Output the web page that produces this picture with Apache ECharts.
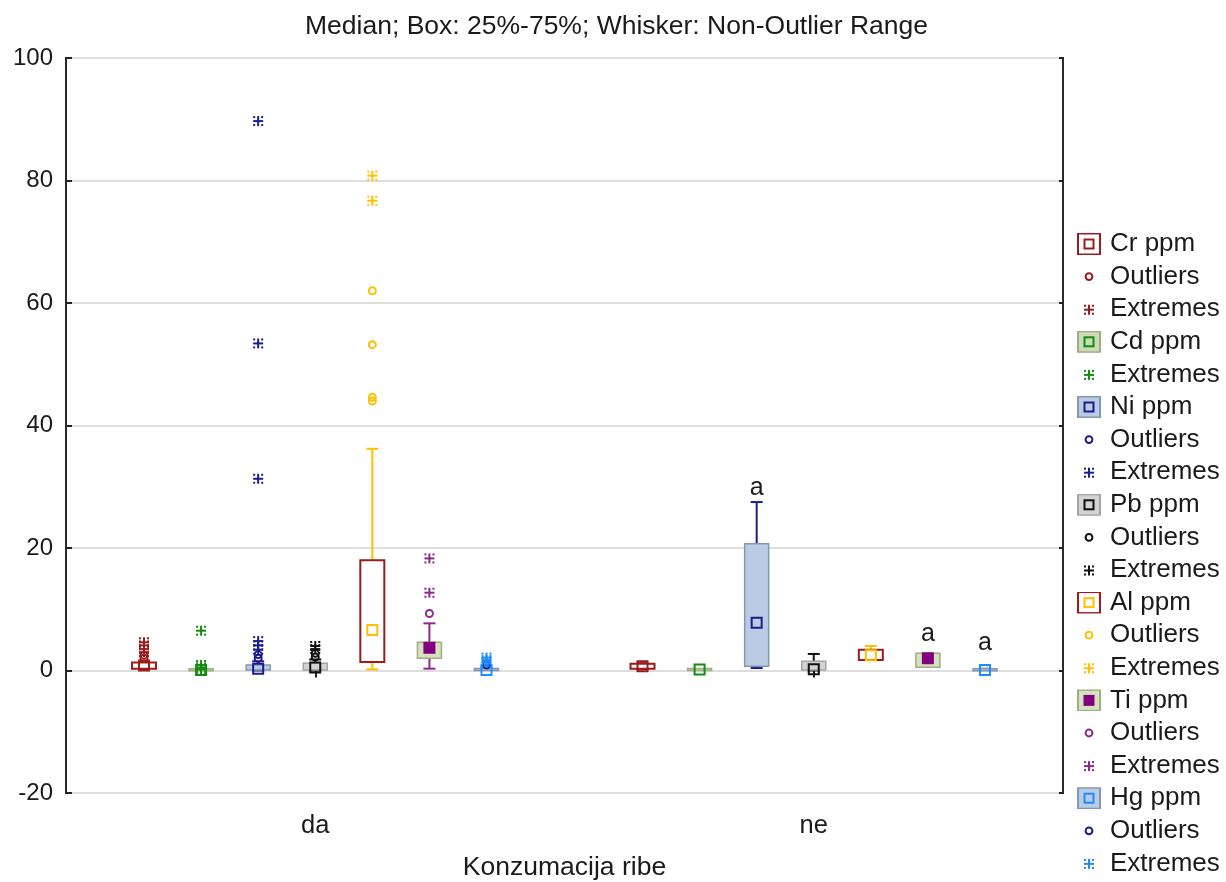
<!DOCTYPE html>
<html><head><meta charset="utf-8">
<script src="https://cdn.jsdelivr.net/npm/echarts@6/dist/echarts.min.js"></script>
<style>html,body{margin:0;padding:0;background:#fff}#c{width:1226px;height:882px}</style>
</head><body><div id="c"></div>
<script>
// ---------- data ----------
const categories = ['da', 'ne'];
const variables = ['Cr ppm', 'Cd ppm', 'Ni ppm', 'Pb ppm', 'Al ppm', 'Ti ppm', 'Hg ppm'];
const yTicks = [-20, 0, 20, 40, 60, 80, 100];
const chartTitle = 'Median; Box: 25%-75%; Whisker: Non-Outlier Range';
const xTitle = 'Konzumacija ribe';

// [lower whisker, Q1, median, Q3, upper whisker] for 'da', 'ne'
const crBox = [[0.1, 0.3, 0.8, 1.3, 1.5], [0.2, 0.3, 0.7, 1.1, 1.2]];
const cdBox = [[0.0, 0.05, 0.1, 0.2, 0.25], [0.0, 0.05, 0.15, 0.3, 0.35]];
const niBox = [[0.0, 0.1, 0.3, 0.9, 1.5], [0.4, 0.7, 7.8, 20.7, 27.5]];
const pbBox = [[0.0, 0.1, 0.5, 1.2, 1.8], [0.0, 0.1, 0.2, 1.5, 2.7]];
const alBox = [[0.2, 1.4, 6.6, 18.0, 36.2], [1.7, 1.7, 2.5, 3.4, 4.0]];
const tiBox = [[0.3, 2.0, 3.7, 4.6, 7.7], [0.5, 0.55, 2.0, 2.8, 2.8]];
const hgBox = [[0.0, 0.02, 0.1, 0.3, 0.6], [0.0, 0.05, 0.1, 0.2, 0.3]];

// [category index, value]
const crOutliers = [[0, 2.0], [0, 2.5]];
const crExtremes = [[0, 3.0], [0, 3.5], [0, 4.1], [0, 4.6]];
const cdExtremes = [[0, 0.2], [0, 0.5], [0, 0.9], [0, 6.5]];
const niOutliers = [[0, 2.0], [0, 2.6]];
const niExtremes = [[0, 3.4], [0, 4.1], [0, 4.8], [0, 31.3], [0, 53.4], [0, 89.7]];
const pbOutliers = [[0, 2.2], [0, 2.8]];
const pbExtremes = [[0, 3.5], [0, 4.0]];
const alOutliers = [[0, 44.0], [0, 44.6], [0, 53.2], [0, 62.0]];
const alExtremes = [[0, 76.7], [0, 80.8]];
const tiOutliers = [[0, 9.3]];
const tiExtremes = [[0, 12.7], [0, 18.3]];
const hgOutliers = [[0, 0.9]];
const hgExtremes = [[0, 1.3], [0, 1.7], [0, 2.1]];

// significance letters: [category index, value at letter, letter]
const niLetters = [[1, 29.7, 'a']];
const tiLetters = [[1, 5.9, 'a']];
const hgLetters = [[1, 4.4, 'a']];

// ---------- styles ----------
const FONT = '"Liberation Sans", Arial, sans-serif';
const TXT = '#1a1a1a';
const SPACING = 0.1145;   // fraction of category band between neighbouring boxes
const BOX_W = 24, CAP_W = 12, MED = 10;

const styles = {
  'Cr ppm': {fill: '#ffffff', border: '#9a1c1c', bw: 2, med: '#9a1c1c', whisker: '#9a1c1c', out: '#9a1c1c', ext: '#9a1c1c'},
  'Cd ppm': {fill: '#cbdbb7', border: '#9cad80', bw: 1.5, med: '#118c11', whisker: '#118c11', out: '#118c11', ext: '#118c11'},
  'Ni ppm': {fill: '#b9cce4', border: '#8497b2', bw: 1.5, med: '#1c1c8c', whisker: '#1c1c8c', out: '#1c1c8c', ext: '#1c1c8c'},
  'Pb ppm': {fill: '#d3d3d3', border: '#a4a4a4', bw: 1.5, med: '#111111', whisker: '#111111', out: '#111111', ext: '#111111'},
  'Al ppm': {fill: '#ffffff', border: '#9a1c1c', bw: 2, med: '#ffbf00', whisker: '#ffbf00', out: '#ffbf00', ext: '#ffbf00'},
  'Ti ppm': {fill: '#d6e2bf', border: '#9fae82', bw: 1.5, med: '#800080', medFill: true, whisker: '#8c2a8c', out: '#8c2a8c', ext: '#8c2a8c'},
  'Hg ppm': {fill: '#b9cce4', border: '#8497b2', bw: 1.5, med: '#1e8cff', whisker: '#1e8cff', out: '#1c1c8c', ext: '#1e8cff'}
};

function offsetFor(vi, api) {
  const band = api.size([1, 0])[0];
  return (vi - 3) * band * SPACING;
}

function boxSeries(vi, boxes) {
  const name = variables[vi];
  const st = styles[name];
  return {
    type: 'custom', name, z: 3,
    data: boxes.map((b, i) => [i].concat(b)),
    encode: {x: 0, y: [1, 2, 3, 4, 5]},
    renderItem: (params, api) => {
      const ci = api.value(0);
      const dx = offsetFor(vi, api);
      const py = k => api.coord([ci, api.value(k)])[1];
      const x = api.coord([ci, 0])[0] + dx;
      const yLo = py(1), yQ1 = py(2), yMed = py(3), yQ3 = py(4), yHi = py(5);
      const ls = {stroke: st.whisker, lineWidth: 2};
      const ch = [];
      if (yHi < yQ3 - 0.5) {
        ch.push({type: 'line', shape: {x1: x, y1: yQ3, x2: x, y2: yHi}, style: ls});
        ch.push({type: 'line', shape: {x1: x - CAP_W / 2, y1: yHi, x2: x + CAP_W / 2, y2: yHi}, style: ls});
      }
      if (yLo > yQ1 + 0.5) {
        ch.push({type: 'line', shape: {x1: x, y1: yQ1, x2: x, y2: yLo}, style: ls});
        ch.push({type: 'line', shape: {x1: x - CAP_W / 2, y1: yLo, x2: x + CAP_W / 2, y2: yLo}, style: ls});
      }
      const h = Math.max(yQ1 - yQ3, 2);
      ch.push({type: 'rect', shape: {x: x - BOX_W / 2, y: (yQ1 + yQ3) / 2 - h / 2, width: BOX_W, height: h},
        style: {fill: st.fill, stroke: st.border, lineWidth: st.bw}});
      ch.push({type: 'rect', shape: {x: x - MED / 2, y: yMed - MED / 2, width: MED, height: MED},
        style: {fill: st.medFill ? st.med : 'none', stroke: st.med, lineWidth: 2}});
      return {type: 'group', children: ch};
    }
  };
}

function asterisk(color) {
  const s = {fill: color};
  return [
    {type: 'rect', shape: {x: -1, y: -5, width: 2, height: 10}, style: s},
    {type: 'rect', shape: {x: -5, y: -1, width: 10, height: 2}, style: s},
    {type: 'rect', shape: {x: -5, y: -5, width: 2, height: 2}, style: s},
    {type: 'rect', shape: {x: 3, y: -5, width: 2, height: 2}, style: s},
    {type: 'rect', shape: {x: -5, y: 3, width: 2, height: 2}, style: s},
    {type: 'rect', shape: {x: 3, y: 3, width: 2, height: 2}, style: s}
  ];
}

function pointSeries(vi, kind, pts) {
  const v = variables[vi];
  const st = styles[v];
  const color = kind === 'Outliers' ? st.out : st.ext;
  return {
    type: 'custom', name: v + '|' + kind, z: 4,
    data: pts, encode: {x: 0, y: 1},
    renderItem: (params, api) => {
      const c = api.coord([api.value(0), api.value(1)]);
      const x = c[0] + offsetFor(vi, api), y = c[1];
      if (kind === 'Outliers') {
        return {type: 'circle', shape: {cx: x, cy: y, r: 3.5}, style: {fill: 'none', stroke: color, lineWidth: 2}};
      }
      return {type: 'group', x, y, children: asterisk(color)};
    }
  };
}

function letterSeries(vi, items) {
  return {
    type: 'custom', name: variables[vi] + '|letters', z: 5,
    data: items, encode: {x: 0, y: 1},
    renderItem: (params, api) => {
      const c = api.coord([api.value(0), api.value(1)]);
      return {type: 'text', x: c[0] + offsetFor(vi, api), y: c[1],
        style: {text: items[params.dataIndex][2], fill: TXT, font: '25px ' + FONT, align: 'center', verticalAlign: 'middle'}};
    }
  };
}

// ---------- legend icons (SVG images) ----------
function svgUrl(inner) {
  const svg = "<svg xmlns='http://www.w3.org/2000/svg' width='28' height='22' viewBox='0 0 28 22'>" + inner + "</svg>";
  return 'image://data:image/svg+xml;charset=utf-8,' + encodeURIComponent(svg);
}
function boxIcon(st) {
  return svgUrl("<rect x='1' y='0.5' width='22' height='21' fill='" + st.fill + "' stroke='" + st.border + "' stroke-width='2'/>" +
    "<rect x='7.5' y='6.5' width='9' height='9' fill='" + (st.medFill ? st.med : 'none') + "' stroke='" + st.med + "' stroke-width='2'/>");
}
function outIcon(color) {
  return svgUrl("<circle cx='12' cy='11' r='3.4' fill='none' stroke='" + color + "' stroke-width='2'/>");
}
function extIcon(color) {
  const r = (x, y, w, h) => "<rect x='" + x + "' y='" + y + "' width='" + w + "' height='" + h + "' fill='" + color + "'/>";
  return svgUrl(r(11, 6.5, 2, 10) + r(7, 10.5, 10, 2) + r(7, 6.5, 2, 2) + r(15, 6.5, 2, 2) + r(7, 14.5, 2, 2) + r(15, 14.5, 2, 2));
}

// ---------- series ----------
const boxesByVar = [crBox, cdBox, niBox, pbBox, alBox, tiBox, hgBox];
const pointsByVar = [
  {Outliers: crOutliers, Extremes: crExtremes},
  {Extremes: cdExtremes},
  {Outliers: niOutliers, Extremes: niExtremes},
  {Outliers: pbOutliers, Extremes: pbExtremes},
  {Outliers: alOutliers, Extremes: alExtremes},
  {Outliers: tiOutliers, Extremes: tiExtremes},
  {Outliers: hgOutliers, Extremes: hgExtremes}
];
const series = [];
const legendData = [];
variables.forEach((v, vi) => {
  const st = styles[v];
  series.push(boxSeries(vi, boxesByVar[vi]));
  legendData.push({name: v, icon: boxIcon(st)});
  ['Outliers', 'Extremes'].forEach(kind => {
    const pts = pointsByVar[vi][kind];
    if (!pts) return;
    series.push(pointSeries(vi, kind, pts));
    legendData.push({name: v + '|' + kind, icon: kind === 'Outliers' ? outIcon(st.out) : extIcon(st.ext)});
  });
});
series.push(letterSeries(2, niLetters), letterSeries(5, tiLetters), letterSeries(6, hgLetters));

const tickLine = {color: '#222', width: 2};
const option = {
  animation: false,
  backgroundColor: '#ffffff',
  textStyle: {fontFamily: FONT},
  title: {text: chartTitle, left: 305, top: 13, padding: 0,
    textStyle: {fontSize: 26.5, fontWeight: 'normal', color: TXT, fontFamily: FONT}},
  grid: {left: 66, right: 163, top: 58, bottom: 89, show: true, borderColor: '#2a2a2a', borderWidth: 2,
    backgroundColor: '#fff', containLabel: false, outerBoundsMode: 'none'},
  legend: {
    orient: 'vertical', left: 1077, top: 231, bottom: 0, padding: 0, itemWidth: 28, itemHeight: 22, itemGap: 6.6,
    selectedMode: false, data: legendData,
    formatter: n => n.indexOf('|') >= 0 ? n.split('|')[1] : n,
    textStyle: {fontSize: 26, color: TXT, fontFamily: FONT}
  },
  xAxis: [
    {type: 'category', data: categories, position: 'bottom',
      axisLine: {show: false}, axisTick: {show: true, inside: true, alignWithLabel: true, length: 7, lineStyle: tickLine},
      axisLabel: {fontSize: 25.5, color: TXT, margin: 20, fontFamily: FONT},
      name: xTitle, nameLocation: 'middle', nameGap: 61,
      nameTextStyle: {fontSize: 26.5, color: TXT, fontFamily: FONT}},
    {type: 'category', data: categories, position: 'top',
      axisLine: {show: false}, axisTick: {show: true, inside: true, alignWithLabel: true, length: 7, lineStyle: tickLine},
      axisLabel: {show: true, color: 'rgba(0,0,0,0)'}}
  ],
  yAxis: [
    {type: 'value', min: yTicks[0], max: yTicks[yTicks.length - 1], interval: 20,
      axisLine: {show: false}, axisTick: {show: true, inside: true, length: 6, lineStyle: tickLine},
      axisLabel: {fontSize: 24, color: TXT, margin: 13, fontFamily: FONT},
      splitLine: {show: true, lineStyle: {color: '#dedede', width: 2}}},
    {type: 'value', min: yTicks[0], max: yTicks[yTicks.length - 1], interval: 20, position: 'right',
      axisLine: {show: false}, axisTick: {show: true, inside: true, length: 4, lineStyle: tickLine},
      axisLabel: {show: false}, splitLine: {show: false}}
  ],
  series
};
const chart = echarts.init(document.getElementById('c'), null, {renderer: 'canvas'});
chart.setOption(option);
</script>
</body></html>
